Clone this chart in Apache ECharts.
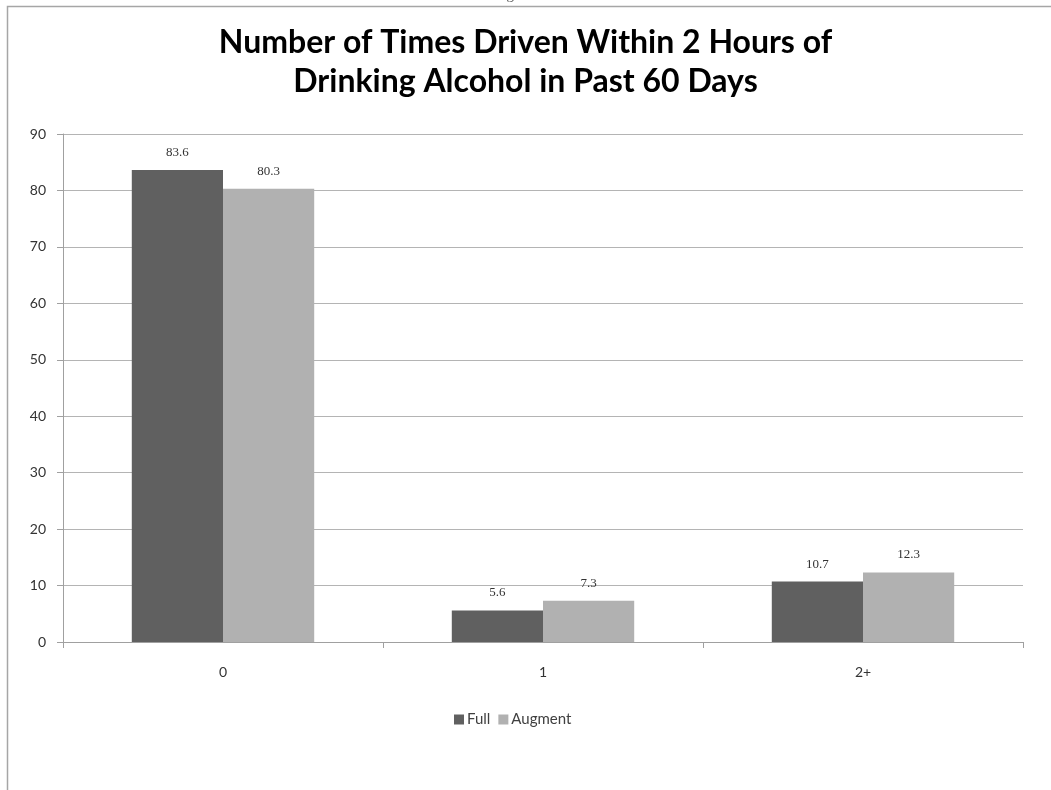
<!DOCTYPE html>
<html>
<head>
<meta charset="utf-8">
<script src="https://cdn.jsdelivr.net/npm/echarts@6/dist/echarts.min.js"></script>
<style>
  html, body { margin: 0; padding: 0; background: #ffffff; }
  #chart { width: 1051px; height: 790px; }
</style>
</head>
<body>
<div id="chart"></div>
<script>
// Times driven within 2 hours of drinking, share of respondents (%)
const categories = ['0', '1', '2+'];
const fullValues = [83.6, 5.6, 10.7];
const augmentValues = [80.3, 7.3, 12.3];
const seriesNames = ['Full', 'Augment'];
const yTicks = { min: 0, max: 90, interval: 10 };

const chart = echarts.init(document.getElementById('chart'), null, { renderer: 'canvas' });

const labelStyle = {
  show: true,
  position: 'top',
  distance: 11,
  fontFamily: '"Liberation Serif", "Times New Roman", serif',
  fontSize: 13,
  color: '#333333'
};

chart.setOption({
  backgroundColor: '#ffffff',
  animation: false,
  graphic: [
    {
      type: 'rect',
      shape: { x: 7.5, y: 6.5, width: 1200, height: 900 },
      style: { fill: 'none', stroke: '#a6a6a6', lineWidth: 1.5 },
      silent: true
    },
    {
      type: 'text',
      left: 494,
      top: -12,
      style: { text: 'Figure 6', fontFamily: '"Liberation Serif", serif', fontSize: 15, fill: '#555555' },
      silent: true
    }
  ],
  title: {
    text: 'Number of Times Driven Within 2 Hours of\nDrinking Alcohol in Past 60 Days',
    left: 'center',
    top: 18,
    textStyle: {
      fontFamily: 'Lato, "Open Sans", sans-serif',
      fontWeight: 'bold',
      fontSize: 32,
      lineHeight: 39,
      color: '#000000'
    }
  },
  legend: {
    data: seriesNames,
    left: 449,
    top: 707,
    itemWidth: 10,
    itemHeight: 10,
    itemGap: 8,
    icon: 'rect',
    textStyle: { fontFamily: 'Lato, sans-serif', fontSize: 15, color: '#404040', padding: [0, 0, 0, -2] }
  },
  grid: { left: 63, right: 28, top: 134, bottom: 148, containLabel: false },
  xAxis: {
    type: 'category',
    data: categories,
    axisLine: { lineStyle: { color: '#a0a0a0', width: 1 } },
    axisTick: { show: true, length: 6, alignWithLabel: false, lineStyle: { color: '#a0a0a0' } },
    axisLabel: { margin: 23, fontFamily: 'Lato, sans-serif', fontSize: 14, color: '#333333' }
  },
  yAxis: {
    type: 'value',
    min: yTicks.min,
    max: yTicks.max,
    interval: yTicks.interval,
    axisLine: { show: true, lineStyle: { color: '#a0a0a0', width: 1 } },
    axisTick: { show: true, length: 6, lineStyle: { color: '#a0a0a0' } },
    axisLabel: { margin: 17, fontFamily: 'Lato, sans-serif', fontSize: 14, color: '#333333' },
    splitLine: { lineStyle: { color: '#b4b4b4', width: 1 } }
  },
  series: [
    {
      name: seriesNames[0],
      type: 'bar',
      data: fullValues,
      barGap: '0%',
      barCategoryGap: '43%',
      itemStyle: { color: '#606060' },
      label: labelStyle
    },
    {
      name: seriesNames[1],
      type: 'bar',
      data: augmentValues,
      itemStyle: { color: '#b1b1b1' },
      label: labelStyle
    }
  ]
});
</script>
</body>
</html>
